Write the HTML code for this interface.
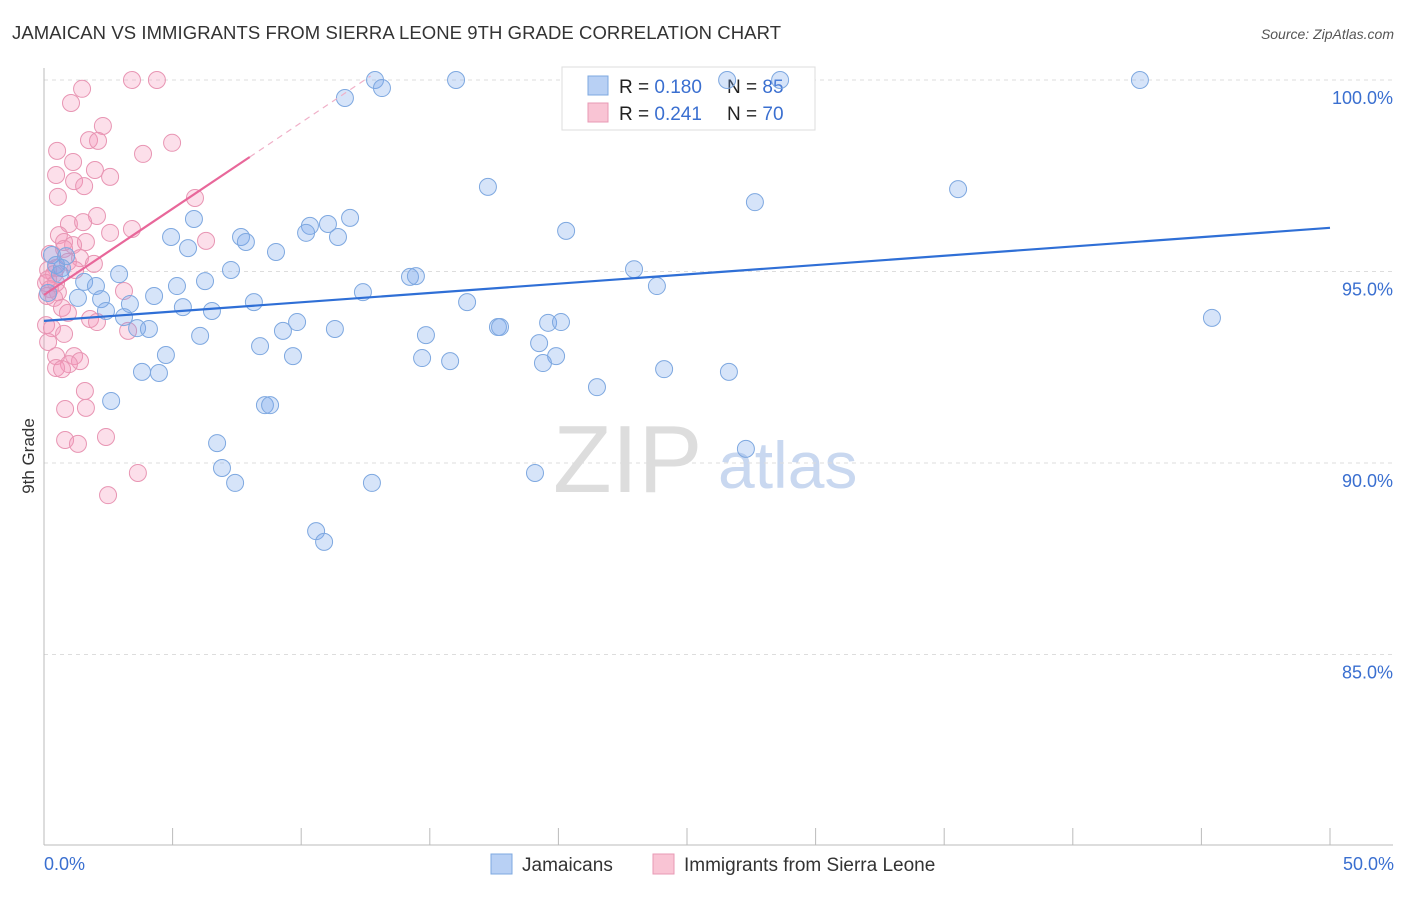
<!DOCTYPE html>
<html><head><meta charset="utf-8"><style>
body{margin:0;background:#fff;font-family:"Liberation Sans",sans-serif;}
svg text{font-family:"Liberation Sans",sans-serif;}
</style></head><body>
<svg id="chart" width="1406" height="892">
<text x="12" y="39" font-size="18.5" fill="#333" textLength="769">JAMAICAN VS IMMIGRANTS FROM SIERRA LEONE 9TH GRADE CORRELATION CHART</text>
<text x="1394" y="39" font-size="14" fill="#555" font-style="italic" text-anchor="end">Source: ZipAtlas.com</text>
<text x="34" y="456" font-size="17" fill="#333" text-anchor="middle" transform="rotate(-90 34 456)">9th Grade</text>
<g>
<text x="553" y="492" font-size="96" fill="#ddd" font-family="Liberation Serif">ZIP</text>
<text x="718" y="488" font-size="66" fill="#c9d8f0">atlas</text>
</g>
<g id="grid"></g><g id="axes"></g>
<g>
<rect x="562" y="67" width="253" height="63" fill="#fff" stroke="#ddd"/>
<rect x="588" y="76" width="20" height="19" fill="#b8d0f4" stroke="#7ea8e0"/>
<rect x="588" y="103" width="20" height="19" fill="#f9c4d4" stroke="#e89ab5"/>
<text x="619" y="93" font-size="19" fill="#222">R = <tspan fill="#3a6fd0">0.180</tspan></text>
<text x="727" y="93" font-size="19" fill="#222">N = <tspan fill="#3a6fd0">85</tspan></text>
<text x="619" y="120" font-size="19" fill="#222">R = <tspan fill="#3a6fd0">0.241</tspan></text>
<text x="727" y="120" font-size="19" fill="#222">N = <tspan fill="#3a6fd0">70</tspan></text>
</g>
<g id="marks"></g>
<g>
<rect x="491" y="854" width="21" height="20" fill="#b8d0f4" stroke="#7ea8e0"/>
<text x="522" y="871" font-size="19" fill="#333">Jamaicans</text>
<rect x="653" y="854" width="21" height="20" fill="#f9c4d4" stroke="#e89ab5"/>
<text x="684" y="871" font-size="19" fill="#333">Immigrants from Sierra Leone</text>
</g>
</svg>
<script>
const blueX=[12.87,16.02,26.56,28.62,42.61,13.14,11.70,17.26,35.54,27.64,5.83,11.90,11.04,10.34,10.19,20.30,4.94,7.66,7.85,11.43,5.60,9.02,0.31,0.86,0.70,7.27,22.94,2.92,14.23,14.46,6.26,5.17,1.56,2.02,23.83,12.40,4.28,2.22,1.32,8.16,16.45,3.34,5.40,6.53,2.41,3.11,9.84,3.62,4.08,11.31,9.29,17.65,17.73,19.60,20.10,6.07,14.85,19.25,8.40,4.74,9.68,14.70,15.79,19.91,19.40,3.81,4.47,24.11,26.63,21.50,2.61,8.59,8.79,6.73,27.29,6.92,19.09,7.43,12.75,10.58,10.89,45.41,0.47,0.62,0.16];
const blueY=[100,100,100,100,100,99.79,99.53,97.21,97.15,96.81,96.37,96.40,96.24,96.19,96.01,96.06,95.90,95.90,95.77,95.90,95.61,95.51,95.43,95.40,95.09,95.04,95.06,94.93,94.86,94.88,94.75,94.62,94.73,94.62,94.62,94.46,94.36,94.28,94.31,94.20,94.20,94.15,94.07,93.97,93.97,93.81,93.68,93.52,93.50,93.50,93.45,93.55,93.55,93.66,93.68,93.32,93.34,93.13,93.05,92.82,92.79,92.74,92.66,92.79,92.61,92.38,92.35,92.45,92.38,91.98,91.62,91.51,91.51,90.52,90.37,89.87,89.74,89.48,89.48,88.22,87.94,93.79,95.17,94.93,94.44];
const pinkX=[3.42,4.39,1.48,1.05,2.29,1.75,2.10,4.98,0.51,3.85,1.13,1.98,0.47,2.57,1.17,1.56,0.54,5.87,2.06,0.97,1.52,3.42,2.57,0.58,0.78,6.30,1.63,1.13,0.78,0.23,1.40,0.93,1.94,0.47,0.16,1.21,0.39,0.16,0.08,0.47,0.23,0.54,3.11,0.12,0.39,0.70,0.93,1.79,2.06,0.08,0.31,3.27,0.78,0.16,0.47,1.17,1.40,0.97,0.47,0.70,1.59,0.82,1.63,0.82,1.32,2.41,3.65,2.49];
const pinkY=[100,100,99.77,99.40,98.80,98.43,98.41,98.36,98.15,98.07,97.86,97.65,97.52,97.47,97.36,97.23,96.95,96.92,96.45,96.24,96.29,96.11,96.01,95.95,95.77,95.80,95.77,95.69,95.59,95.46,95.35,95.25,95.20,95.09,95.04,95.04,94.93,94.80,94.70,94.70,94.54,94.46,94.49,94.36,94.31,94.05,93.92,93.76,93.68,93.60,93.52,93.45,93.37,93.16,92.79,92.79,92.66,92.58,92.48,92.45,91.88,91.41,91.44,90.60,90.50,90.68,89.74,89.16];
const blueTrend=[93.71,96.14];
const pinkTrend=[94.39,0.45];
const pinkSolidEnd=8.0, pinkDashEnd=12.7;
const yTicks=[100,95,90,85];
const xTicks=[0,5,10,15,20,25,30,35,40,45,50];
const NS="http://www.w3.org/2000/svg";
const sx=v=>44+v*25.72, sy=v=>80+(100-v)*38.3;
function mk(tag,attrs,parent){const e=document.createElementNS(NS,tag);for(const k in attrs)e.setAttribute(k,attrs[k]);parent.appendChild(e);return e;}
const grid=document.getElementById('grid'),axes=document.getElementById('axes'),marks=document.getElementById('marks');
yTicks.forEach(t=>{
 const l=mk('line',{x1:44,x2:1393,y1:sy(t),y2:sy(t),stroke:'#ddd','stroke-dasharray':'4,4'},grid);
 
 
 const tx=mk('text',{x:1393,y:sy(t)+24,'font-size':18,fill:'#3a6fd0','text-anchor':'end'},axes);
 tx.textContent=t.toFixed(1)+'%';
 
 
});
let a=mk('line',{x1:44,x2:44,y1:68,y2:845,stroke:'#bbb'},axes);


a=mk('line',{x1:44,x2:1393,y1:845,y2:845,stroke:'#bbb'},axes);


xTicks.forEach(t=>{
 const l=mk('line',{x1:sx(t),x2:sx(t),y1:828,y2:845,stroke:'#bbb'},axes);
 
 
});
[[0,'start',44],[50,'end',1394]].forEach(([t,anc,x])=>{
 const tx=mk('text',{x:x,y:870,'font-size':18,fill:'#3a6fd0','text-anchor':anc},axes);
 tx.textContent=t.toFixed(1)+'%';
 
 
});
pinkX.forEach((x,i)=>{
 const c=mk('circle',{cx:sx(x),cy:sy(pinkY[i]),r:8.5,fill:'rgba(244,150,185,0.3)',stroke:'#e895b3','stroke-width':1},marks);
 
 
});
blueX.forEach((x,i)=>{
 const c=mk('circle',{cx:sx(x),cy:sy(blueY[i]),r:8.5,fill:'rgba(120,165,235,0.3)',stroke:'#7ea8e0','stroke-width':1},marks);
 
 
});
let t=mk('line',{x1:sx(0),y1:sy(blueTrend[0]),x2:sx(50),y2:sy(blueTrend[1]),stroke:'#2f6fd6','stroke-width':2.2},marks);


const py=x=>pinkTrend[0]+pinkTrend[1]*x;
t=mk('line',{x1:sx(0),y1:sy(py(0)),x2:sx(pinkSolidEnd),y2:sy(py(pinkSolidEnd)),stroke:'#e8679a','stroke-width':2.2},marks);


t=mk('line',{x1:sx(pinkSolidEnd),y1:sy(py(pinkSolidEnd)),x2:sx(pinkDashEnd),y2:sy(py(pinkDashEnd)),stroke:'#f0b0c8','stroke-width':1.2,'stroke-dasharray':'6,5'},marks);


</script>
</body></html>
